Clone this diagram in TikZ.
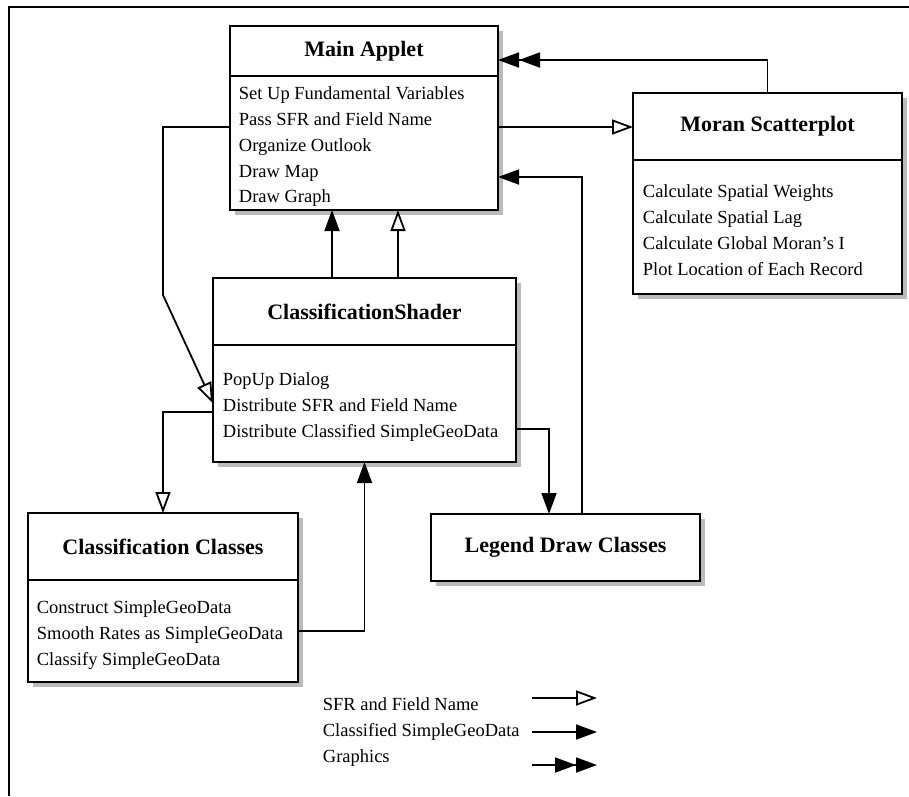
\documentclass[tikz,border=0pt]{standalone}
\usepackage{fontspec}
\setmainfont{Liberation Serif}
\usetikzlibrary{arrows.meta, positioning, shadows}

\begin{document}
\begin{tikzpicture}[x=1pt, y=-1pt, line width=1.8pt]
		\tikzstyle{classhead}=[draw, line width=2pt, fill=white, outer sep=0pt, inner sep=0pt, minimum height=67pt, font=\fontsize{22}{26}\selectfont\bfseries, drop shadow={shadow xshift=5pt, shadow yshift=-5pt, fill=black!45, opacity=0.6}]
		\tikzstyle{classbody}=[classhead, font=\normalfont]
		\tikzstyle{itemlist}=[align=left, inner sep=0pt, font=\fontsize{18.5}{25.8}\selectfont]
		\tikzstyle{sfrflow}=[-{Triangle[open, length=21pt, width=15pt]}]
		\tikzstyle{dataflow}=[-{Triangle[length=21pt, width=15pt]}]
		\tikzstyle{gfxflow}=[-{Triangle[length=21pt, width=15pt] Triangle[length=21pt, width=15pt]}]

		\useasboundingbox (0,0) rectangle (909,796);
		\draw (909,7) -| (9,796);

		% classes
		\node[classhead, minimum width=268pt, minimum height=50pt] (MA-t) at (364,51) {Main Applet};
		\node[classbody, minimum width=268pt, minimum height=134pt, below=0pt of MA-t] (MA-b) {};
		\node[itemlist, below right=10pt and 8pt of MA-b.north west] (MA-l) {Set Up Fundamental Variables\\ Pass SFR and Field Name\\ Organize Outlook\\ Draw Map\\ Draw Graph};

		\node[classhead, minimum width=269pt] (MS-t) at (767.5,126.5) {Moran Scatterplot};
		\node[classbody, minimum width=269pt, minimum height=134pt, below=0pt of MS-t] (MS-b) {};
		\node[itemlist, below right=24pt and 9pt of MS-b.north west] (MS-l) {Calculate Spatial Weights\\ Calculate Spatial Lag\\ Calculate Global Moran's I\\ Plot Location of Each Record};

		\node[classhead, minimum width=303pt] (SH-t) at (364.5,311.5) {ClassificationShader};
		\node[classbody, minimum width=303pt, minimum height=117pt, below=0pt of SH-t] (SH-b) {};
		\node[itemlist, below right=27pt and 9pt of SH-b.north west] (SH-l) {PopUp Dialog\\ Distribute SFR and Field Name\\ Distribute Classified SimpleGeoData};

		\node[classhead, minimum width=270pt] (CC-t) at (163,546.5) {Classification Classes};
		\node[classbody, minimum width=270pt, minimum height=102pt, below=0pt of CC-t] (CC-b) {};
		\node[itemlist, below right=20pt and 8pt of CC-b.north west] (CC-l) {Construct SimpleGeoData\\ Smooth Rates as SimpleGeoData\\ Classify SimpleGeoData};

		\node[classhead, minimum width=269pt] (LD) at (565.5,547.5) {Legend Draw Classes};

		% flows
		\coordinate (bend1) at (163,295);
		\draw[sfrflow] ([yshift=16pt]MA-b.west) -| (bend1) -- (SH-b.west);
		\draw[sfrflow] ([yshift=16pt]MA-b.east) -- ([yshift=16pt]MA-b.east -| MS-t.west);
		\draw[gfxflow] (MS-t.north) |- ([yshift=-9pt]MA-t.east);
		\draw[dataflow] ([xshift=16.5pt]LD.north) |- ([yshift=-34pt]MA-b.east);
		\draw[dataflow] ([xshift=-32.5pt]SH-t.north) -- ([xshift=-32.5pt]SH-t.north |- MA-b.south);
		\draw[sfrflow] ([xshift=33.5pt]SH-t.north) -- ([xshift=33.5pt]SH-t.north |- MA-b.south);
		\draw[sfrflow] ([yshift=-8.5pt]SH-b.west) -| (CC-t.north);
		\draw[dataflow] ([yshift=-25.5pt]SH-b.east) -| ([xshift=-16.5pt]LD.north);
		\draw[dataflow] (CC-b.east) -| (SH-b.south);

		% legend
		\node[itemlist, anchor=north west] (key) at (322,697) {SFR and Field Name\\ Classified SimpleGeoData\\ Graphics};
		\foreach \y/\s [count=\i] in {698/sfrflow, 732/dataflow, 765/gfxflow} {
			\coordinate (key\i-a) at (532,\y);
			\coordinate (key\i-b) at (597,\y);
			\draw[\s] (key\i-a) -- (key\i-b);
		}
	\end{tikzpicture}
\end{document}
